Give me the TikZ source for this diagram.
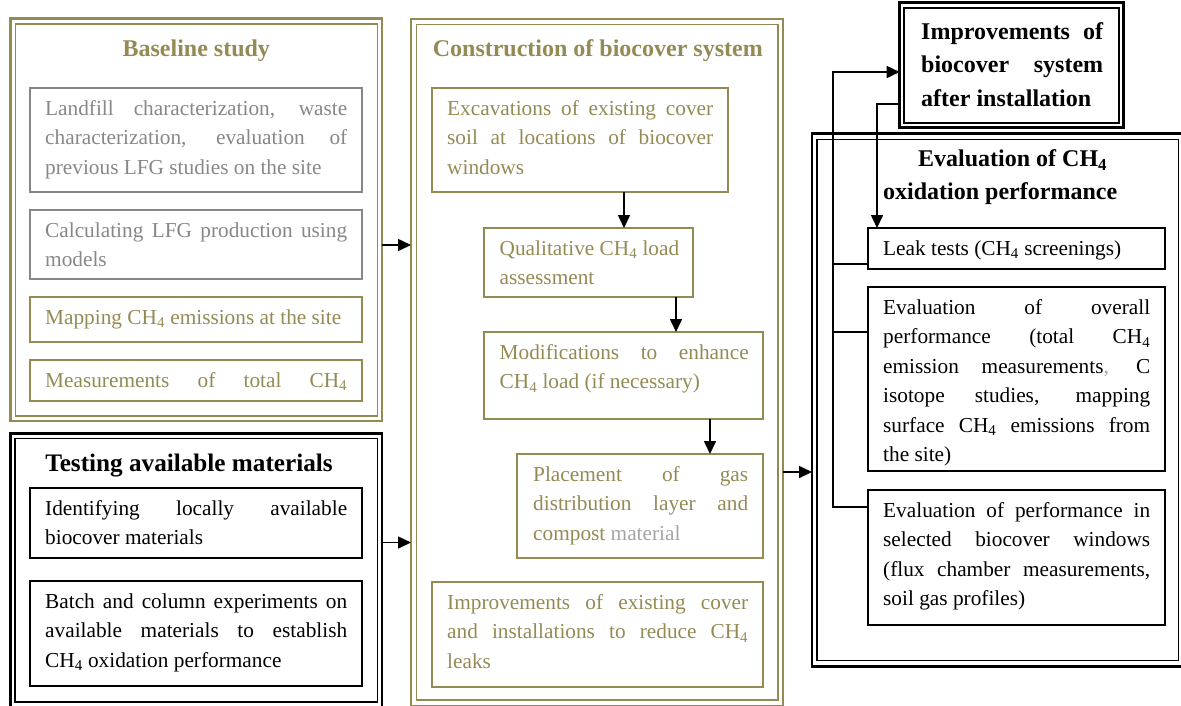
\documentclass[tikz,border=0pt]{standalone}
\usepackage{fontspec}
\setmainfont{Liberation Serif}
\usetikzlibrary{arrows.meta}
\definecolor{oliv}{HTML}{948A54}
\definecolor{gry}{RGB}{135,135,135}
\definecolor{lgry}{RGB}{165,165,165}
\newcommand\J[2][\linewidth]{\makebox[#1][s]{\spaceskip=0.25em plus 1fil\xspaceskip=\spaceskip\relax #2}}
\newcommand\R{\frenchspacing\spaceskip=0pt\xspaceskip=0pt\relax}
\newcommand\sub[1]{\textsubscript{#1}}
\begin{document}
\begin{tikzpicture}[x=1pt,y=-1pt,
  frame/.style={draw, line width=2.7pt, inner sep=0pt, outer sep=0pt, anchor=north west},
  inframe/.style={line width=1.9pt},
  box/.style={draw, line width=1.8pt, inner sep=0pt, outer sep=0pt, anchor=north west},
  txt/.style={anchor=base west, inner sep=0pt, align=left, font=\fontsize{21.3}{29.4}\selectfont},
  ttl/.style={anchor=base, inner sep=0pt, font=\fontsize{24}{33.3}\selectfont\bfseries},
  conn/.style={line width=1.6pt},
  arr/.style={conn, -{Triangle[length=13pt,width=12pt]}}
]
\useasboundingbox (0,0) rectangle (1181,705);

% ---------- frames ----------
\node[frame, draw=oliv, minimum width=371.5pt, minimum height=402.5pt] (base) at (10.5,18.5) {};
\draw[inframe, oliv] (15.5,24) rectangle (377.5,416);
\node[frame, draw=oliv, minimum width=372pt, minimum height=687pt] (con) at (411,19) {};
\draw[inframe, oliv] (416.5,24.5) rectangle (778,700);
\node[frame, draw=black, minimum width=371.5pt, minimum height=275.5pt] (test) at (10.5,433.5) {};
\draw[inframe, black] (15,438.5) rectangle (377.5,702);
\node[frame, draw=black, minimum width=224pt, minimum height=125pt] (impr) at (899.7,2.8) {};
\draw[inframe, black] (904.3,7.7) rectangle (1118.8,123);
\node[frame, draw=black, minimum width=371pt, minimum height=532.5pt] (eval) at (812,133.7) {};
\draw[inframe, black] (817,139.5) rectangle (1178.5,660.5);

% ---------- titles ----------
\node[ttl, text=oliv] (baseT) at (196.3,56) {Baseline study};
\node[ttl, text=oliv] (conT) at (597.8,56) {Construction of biocover system};
\node[ttl, font=\fontsize{25.2}{33.3}\selectfont\bfseries] (testT) at (189,471.5) {Testing available materials};
\node[ttl, anchor=base west, text width=182pt, align=left] (imprT) at (921,39.5)
  {\J{Improvements of}\\\J{biocover system}\\\R after installation};
\node[ttl, anchor=base west, text width=290pt, align=left] (evalT) at (883,166.5)
  {\R\hspace*{35pt}Evaluation of CH\sub{4}\\oxidation performance};

% ---------- baseline study ----------
\node[box, draw=gry, minimum width=332pt, minimum height=104pt] (b1) at (30,88) {};
\node[txt, text width=302pt, text=gry] (b1t) at (45,115.5)
  {\J{Landfill characterization, waste}\\\J{characterization, evaluation of}\\\R previous LFG studies on the site};
\node[box, draw=gry, minimum width=332pt, minimum height=69pt] (b2) at (30,210) {};
\node[txt, text width=302pt, text=gry] (b2t) at (45,237.5)
  {\J{Calculating LFG production using}\\\R models};
\node[box, draw=oliv, minimum width=332pt, minimum height=45pt] (b3) at (30,297) {};
\node[txt, text width=302pt, text=oliv] (b3t) at (45,324.5)
  {\R Mapping CH\sub{4} emissions at the site};
\node[box, draw=oliv, minimum width=332pt, minimum height=41pt] (b4) at (30,360) {};
\node[txt, text width=302pt, text=oliv] (b4t) at (45,387.5)
  {\J{Measurements of total CH\sub{4}}};

% ---------- construction ----------
\node[box, draw=oliv, minimum width=296pt, minimum height=104pt] (c1) at (432,88) {};
\node[txt, text width=266pt, text=oliv] (c1t) at (447,115.5)
  {\J{Excavations of existing cover}\\\J{soil at locations of biocover}\\\R windows};
\node[box, draw=oliv, minimum width=209pt, minimum height=69pt] (c2) at (484,228) {};
\node[txt, text width=179pt, text=oliv] (c2t) at (499.5,255.5)
  {\J{Qualitative CH\sub{4} load}\\\R assessment};
\node[box, draw=oliv, minimum width=279pt, minimum height=87pt] (c3) at (484,332) {};
\node[txt, text width=249pt, text=oliv] (c3t) at (499.5,359.5)
  {\J{Modifications to enhance}\\\R CH\sub{4} load (if necessary)};
\node[box, draw=oliv, minimum width=246pt, minimum height=104pt] (c4) at (517,454) {};
\node[txt, text width=215pt, text=oliv] (c4t) at (533,481.5)
  {\J{Placement of gas}\\\J{distribution layer and}\\\R compost \textcolor{lgry}{material}};
\node[box, draw=oliv, minimum width=331pt, minimum height=105pt] (c5) at (432,582) {};
\node[txt, text width=301pt, text=oliv] (c5t) at (447,609.5)
  {\J{Improvements of existing cover}\\\J{and installations to reduce CH\sub{4}}\\\R leaks};

% ---------- testing ----------
\node[box, draw=black, minimum width=332pt, minimum height=70pt] (t1) at (30,488) {};
\node[txt, text width=302pt] (t1t) at (45,515.5)
  {\J{Identifying locally available}\\\R biocover materials};
\node[box, draw=black, minimum width=332pt, minimum height=105pt] (t2) at (30,581) {};
\node[txt, text width=302pt] (t2t) at (45,608.5)
  {\J{Batch and column experiments on}\\\J{available materials to establish}\\\R CH\sub{4} oxidation performance};

% ---------- evaluation ----------
\node[box, draw=black, minimum width=297pt, minimum height=41pt] (e1) at (868,228) {};
\node[txt, text width=267pt] (e1t) at (883,255.5)
  {\R Leak tests (CH\sub{4} screenings)};
\node[box, draw=black, minimum width=297pt, minimum height=184pt] (e2) at (868,287) {};
\node[txt, text width=267pt] (e2t) at (883,314.5)
  {\J{Evaluation of overall}\\\J{performance (total CH\sub{4}}\\\J{emission measurements\textcolor{lgry}{,} C}\\\J{isotope studies, mapping}\\\J{surface CH\sub{4} emissions from}\\\R the site)};
\node[box, draw=black, minimum width=297pt, minimum height=135pt] (e3) at (868,490) {};
\node[txt, text width=267pt] (e3t) at (883,517.5)
  {\J{Evaluation of performance in}\\\J{selected biocover windows}\\\J{(flux chamber measurements,}\\\R soil gas profiles)};

% ---------- connectors ----------
\draw[arr] (base.east |- 0,245) -- (con.west |- 0,245);
\draw[arr] (test.east |- 0,542.5) -- (con.west |- 0,542.5);
\draw[arr] (con.east |- 0,472) -- (eval.west |- 0,472);
\draw[arr] (c1.south -| 624,0) -- (c2.north -| 624,0);
\draw[arr] (c2.south -| 676,0) -- (c3.north -| 676,0);
\draw[arr] (c3.south -| 710,0) -- (c4.north -| 710,0);

\coordinate (busT) at (833,72);
\coordinate (busB) at (833,507);
\draw[arr] (e3.west |- busB) -- (busB) -- (busT) -- (impr.west |- busT);
\draw[conn] (e1.west |- 0,264) -- (busB |- 0,264);
\draw[conn] (e2.west |- 0,332) -- (busB |- 0,332);
\coordinate (turn) at (877,104);
\draw[arr] (impr.west |- turn) -- (turn) -- (turn |- e1.north);
\end{tikzpicture}
\end{document}
